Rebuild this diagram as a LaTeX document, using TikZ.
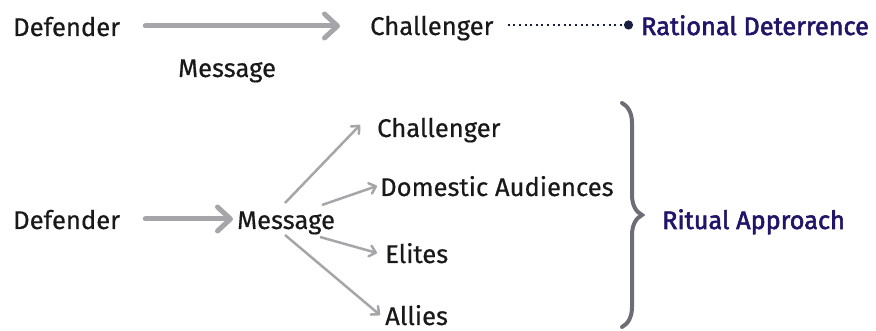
\documentclass[tikz,border=0pt]{standalone}
\usepackage{fontspec}
\setmainfont{Fira Sans}[FakeBold=0.5]
\newfontfamily\semib[FakeBold=2.2]{Fira Sans}
\usetikzlibrary{arrows.meta,decorations.pathreplacing}
\definecolor{navy}{HTML}{221468}
\definecolor{dotnavy}{HTML}{1A2040}
\definecolor{arrowgray}{HTML}{A6A6AA}
\definecolor{bracegray}{HTML}{6D6D77}
\begin{document}
\begin{tikzpicture}[x=1pt,y=1pt,
  lbl/.style={anchor=base west,inner sep=0pt,text height=23pt,text depth=3pt,text=black!90,font=\fontsize{25.6}{30}\selectfont},
  key/.style={lbl,text=navy,font=\fontsize{25.3}{30}\selectfont\semib},
  bigarrow/.style={draw=arrowgray,line width=5pt,line cap=round,-{Straight Barb[length=13pt,width=24pt,round]}},
  thinarrow/.style={draw=arrowgray,line width=2.5pt,-{Straight Barb[length=6pt,width=11pt,round]}},
  dotline/.style={draw=dotnavy,line width=2.5pt,dash pattern=on 2pt off 3.6pt,-{Circle[length=9pt,fill=dotnavy]}},
  bracestyle/.style={draw=bracegray,line width=4pt,line cap=round,decorate,decoration={brace,amplitude=20pt}}
]
\useasboundingbox (0,0) rectangle (876,331);
% top row
\node[lbl] (d1) at (13,295) {Defender};
\node[lbl] (m1) at (178,254) {Message};
\node[lbl] (c1) at (370,296) {Challenger};
\node[key] (rd) at (641,296) {Rational Deterrence};
\draw[bigarrow,shorten <=25pt,shorten >=30pt] (d1.east) -- (d1.east -| c1.west);
\draw[dotline,shorten <=14pt,shorten >=8pt] (c1.east) -- (c1.east -| rd.west);
% bottom
\node[lbl] (d2) at (13,102) {Defender};
\node[lbl] (m2) at (237,102) {Message};
\node[lbl] (ch) at (377,194) {Challenger};
\node[lbl] (da) at (380,135) {Domestic Audiences};
\node[lbl] (el) at (385,68) {Elites};
\node[lbl] (al) at (385,6) {Allies};
\node[key] (ra) at (662,102) {Ritual Approach};
\draw[bigarrow,shorten <=25pt,shorten >=4pt] (d2.east) -- (d2.east -| m2.west);
\coordinate (f1) at (285,128);
\coordinate (f2) at (322,126);
\coordinate (f3) at (320,94);
\coordinate (f4) at (285,96);
\draw[thinarrow] (f1) -- ([shift={(-17pt,2pt)}]ch.west);
\draw[thinarrow] (f2) -- ([xshift=-3pt]da.west);
\draw[thinarrow] (f3) -- ([xshift=-8pt]el.west);
\draw[thinarrow] (f4) -- ([xshift=-5pt]al.west);
\coordinate (bt) at (622,228);
\coordinate (bb) at (622,4);
\draw[bracestyle] (bt) -- (bb);
\end{tikzpicture}
\end{document}
